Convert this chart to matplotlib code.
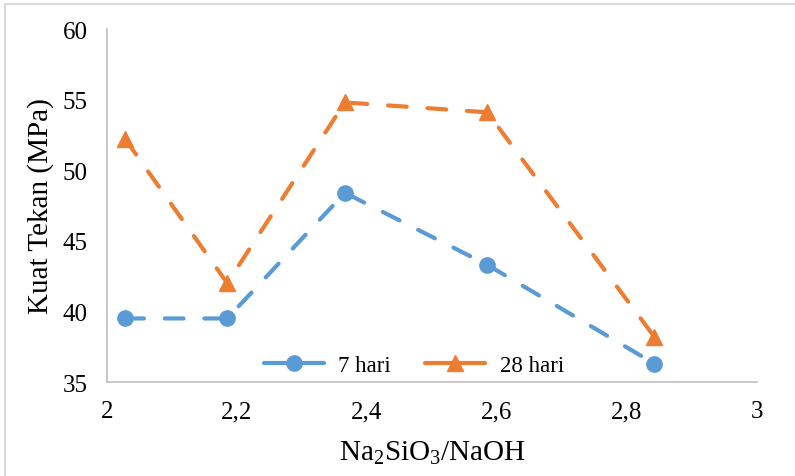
import matplotlib
matplotlib.use("Agg")
import matplotlib.pyplot as plt
from matplotlib.patches import Rectangle

x7 = [2.028, 2.185, 2.366, 2.585, 2.842]
y7 = [39.5, 39.5, 48.4, 43.3, 36.3]
x28 = [2.028, 2.185, 2.366, 2.585, 2.842]
y28 = [52.2, 42.0, 54.8, 54.1, 38.2]
labels = ["7 hari", "28 hari"]
xticks = [2, 2.2, 2.4, 2.6, 2.8, 3]
xticklabels = ["2", "2,2", "2,4", "2,6", "2,8", "3"]
yticks = [35, 40, 45, 50, 55, 60]

plt.rcParams['font.family'] = ['Liberation Serif', 'DejaVu Serif']
plt.rcParams['mathtext.default'] = 'regular'

fig = plt.figure(figsize=(7.95, 4.77), dpi=100)
ax = fig.add_axes([107/795, 1-383/477, (757-107)/795, (383-30)/477])

fig.patches.append(Rectangle((5/795, -0.1), 1.2, (477-5)/477 + 0.1,
                             transform=fig.transFigure, fill=False,
                             edgecolor='#d9d9d9', linewidth=1.5))

blue = '#5b9bd5'
orange = '#ed7d31'
lw = 3.0
ax.plot(x7, y7, color=blue, lw=lw, dashes=(4.5, 5), dash_capstyle='round',
        marker='o', markersize=11, label=labels[0])
ax.plot(x28, y28, color=orange, lw=lw, dashes=(4.5, 5), dash_capstyle='round',
        marker='^', markersize=11, label=labels[1])

ax.set_xlim(2, 3)
ax.set_ylim(35, 60)
ax.set_xticks(xticks)
ax.set_xticklabels(xticklabels)
ax.set_yticks(yticks)
ax.tick_params(length=0, labelsize=18, colors='black')
ax.tick_params(axis='y', pad=14)
ax.tick_params(axis='x', pad=13)
for s in ['top', 'right']:
    ax.spines[s].set_visible(False)
for s in ['left', 'bottom']:
    ax.spines[s].set_color('#bfbfbf')
    ax.spines[s].set_linewidth(1.2)

ax.set_ylabel("Kuat Tekan (MPa)", fontsize=21, labelpad=6)
ax.set_xlabel(r"Na$_2$SiO$_3$/NaOH", fontsize=21, labelpad=12)

leg = ax.legend(loc='center', bbox_to_anchor=((414-107)/650, 1 - (366-30)/353),
                ncol=2, frameon=False, fontsize=16.5, handlelength=2.6,
                columnspacing=1.5, handletextpad=0.65)
for h in leg.get_lines():
    h.set_linestyle('-')
    h.set_solid_capstyle('round')

fig.savefig("out.png", dpi=100)
